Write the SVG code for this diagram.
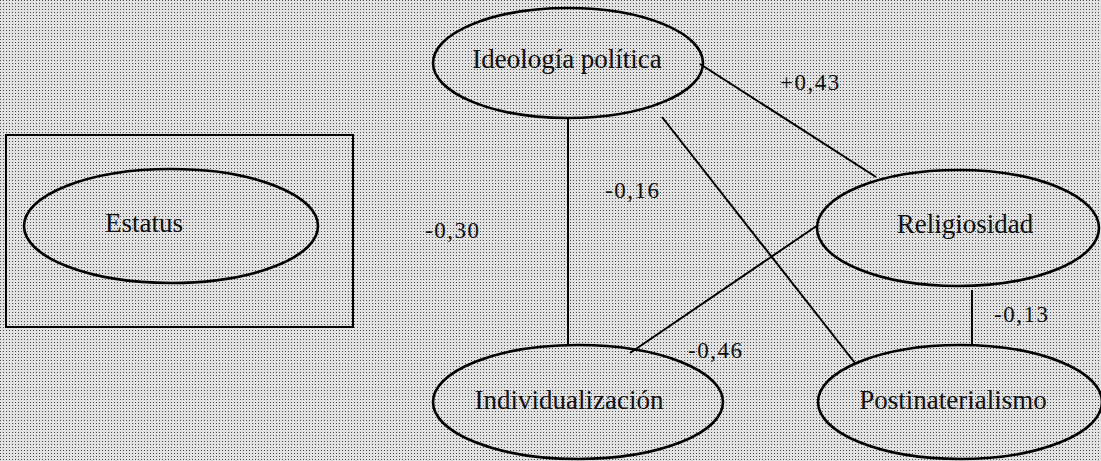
<svg xmlns="http://www.w3.org/2000/svg" width="1101" height="461" viewBox="0 0 1101 461">
<defs>
<pattern id="dots" width="3" height="3" patternUnits="userSpaceOnUse">
<rect width="3" height="3" fill="#e2e2e2"/>
<rect width="1" height="1" fill="#4a4a4a"/>
</pattern>
</defs>
<style>
.node ellipse{fill:none;stroke:#000;stroke-width:2.6}
.name{font-family:"Liberation Serif",serif;font-size:27px;fill:#111;text-anchor:middle}
.lbl{font-family:"Liberation Serif",serif;font-size:23px;fill:#111;letter-spacing:1.5px}
#connectors line{stroke:#000;stroke-width:2}
</style>
<rect width="1101" height="461" fill="url(#dots)"/>
<g id="estatus-box">
<rect x="6" y="135" width="347" height="192" fill="none" stroke="#000" stroke-width="2"/>
</g>
<g id="connectors">
<line x1="568" y1="118" x2="568" y2="345"/>
<line x1="700" y1="64" x2="876" y2="177"/>
<line x1="662" y1="117" x2="855" y2="363"/>
<line x1="818" y1="225" x2="630" y2="353"/>
<line x1="972" y1="290" x2="972" y2="345"/>
<text class="lbl" x="780" y="90">+0,43</text>
<text class="lbl" x="605" y="198">-0,16</text>
<text class="lbl" x="425" y="238">-0,30</text>
<text class="lbl" x="688" y="358">-0,46</text>
<text class="lbl" x="994" y="322">-0,13</text>
</g>
<g id="estatus" class="node">
<ellipse cx="171" cy="226" rx="147" ry="57"/>
<text class="name" x="144" y="232">Estatus</text>
</g>
<g id="ideologia" class="node">
<ellipse cx="568" cy="63" rx="135" ry="55"/>
<text class="name" x="567" y="68">Ideología política</text>
</g>
<g id="religiosidad" class="node">
<ellipse cx="958" cy="228" rx="141" ry="58"/>
<text class="name" x="965" y="233">Religiosidad</text>
</g>
<g id="individualizacion" class="node">
<ellipse cx="578" cy="402" rx="145" ry="57"/>
<text class="name" x="569" y="409">Individualización</text>
</g>
<g id="postmaterialismo" class="node">
<ellipse cx="960" cy="402" rx="142" ry="57"/>
<text class="name" x="953" y="409">Postinaterialismo</text>
</g>
</svg>
